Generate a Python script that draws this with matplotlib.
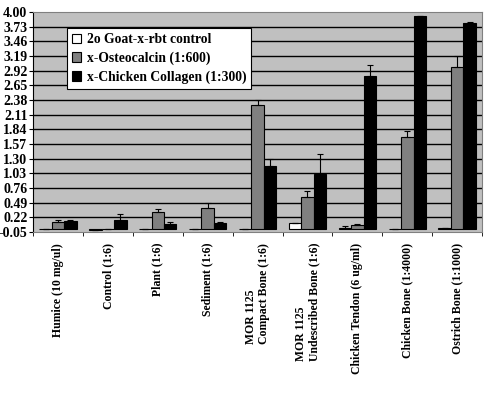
import numpy as np
import matplotlib.pyplot as plt

# sample names (x axis)
samples = ['Humice (10 mg/ul)', 'Control (1:6)', 'Plant (1:6)', 'Sediment (1:6)',
           'MOR 1125\nCompact Bone (1:6)', 'MOR 1125\nUndescribed Bone (1:6)',
           'Chicken Tendon (6 ug/ml)', 'Chicken Bone (1:4000)', 'Ostrich Bone (1:1000)']

series_names = ['2o Goat-x-rbt control', 'x-Osteocalcin (1:600)', 'x-Chicken Collagen (1:300)']

goat = [0.01, -0.02, 0.01, 0.01, 0.01, 0.11, 0.03, 0.00, 0.02]
osteo = [0.14, 0.00, 0.31, 0.39, 2.29, 0.59, 0.08, 1.70, 2.98]
collagen = [0.15, 0.16, 0.10, 0.12, 1.17, 1.01, 2.81, 3.93, 3.79]

goat_err = [0.00, 0.00, 0.00, 0.00, 0.00, 0.01, 0.02, 0.00, 0.00]
osteo_err = [0.03, 0.00, 0.06, 0.10, 0.08, 0.12, 0.02, 0.10, 0.20]
collagen_err = [0.01, 0.12, 0.03, 0.02, 0.12, 0.38, 0.21, 0.00, 0.02]

yticks = [-0.05, 0.22, 0.49, 0.76, 1.03, 1.30, 1.57, 1.84, 2.11, 2.38,
          2.65, 2.92, 3.19, 3.46, 3.73, 4.00]

plt.rcParams['font.family'] = ['Liberation Serif', 'DejaVu Serif']
plt.rcParams['font.weight'] = 'bold'

fig = plt.figure(figsize=(4.86, 3.95), dpi=100)
ax = fig.add_axes([0.068, 0.413, 0.924, 0.557])
ax.set_facecolor('#c0c0c0')

x = np.arange(len(samples))
w = 0.25
colors = ['white', '#808080', 'black']
vals = [goat, osteo, collagen]
errs = [goat_err, osteo_err, collagen_err]
for i in range(3):
    e = np.array(errs[i])
    ax.bar(x + (i - 1) * w, vals[i], w, color=colors[i], edgecolor='black',
           linewidth=0.8, label=series_names[i], zorder=3,
           yerr=[np.zeros_like(e), e], error_kw=dict(ecolor='black', elinewidth=0.8,
                                                      capsize=2, capthick=0.8, zorder=4))

ax.set_ylim(-0.05, 4.00)
ax.set_xlim(-0.5, len(samples) - 0.5)
ax.set_yticks(yticks)
ax.set_yticklabels(['%.2f' % v for v in yticks], fontsize=10, fontweight='bold')
for v in yticks[1:-1]:
    ax.axhline(v, color='black', linewidth=1.0, zorder=1)
ax.tick_params(axis='y', length=3, pad=1)

ax.set_xticks(x)
ax.set_xticklabels(samples, rotation=90, fontsize=8.5, fontweight='bold',
                   va='top', multialignment='left')
ax.set_xticks(np.arange(len(samples) + 1) - 0.5, minor=True)
ax.tick_params(axis='x', which='major', length=0, pad=8)
ax.tick_params(axis='x', which='minor', length=3)

for s in ['top', 'right', 'bottom']:
    ax.spines[s].set_color('#808080')
ax.spines['left'].set_color('black')

leg = ax.legend(loc='upper left', bbox_to_anchor=(0.076, 0.925),
                prop={'weight': 'bold', 'size': 9.8}, frameon=True, fancybox=False,
                edgecolor='black', framealpha=1, handlelength=0.7, handleheight=0.7,
                handletextpad=0.4, borderpad=0.35, labelspacing=0.4, borderaxespad=0)
leg.get_frame().set_linewidth(0.8)

fig.savefig('out.png', dpi=100)
